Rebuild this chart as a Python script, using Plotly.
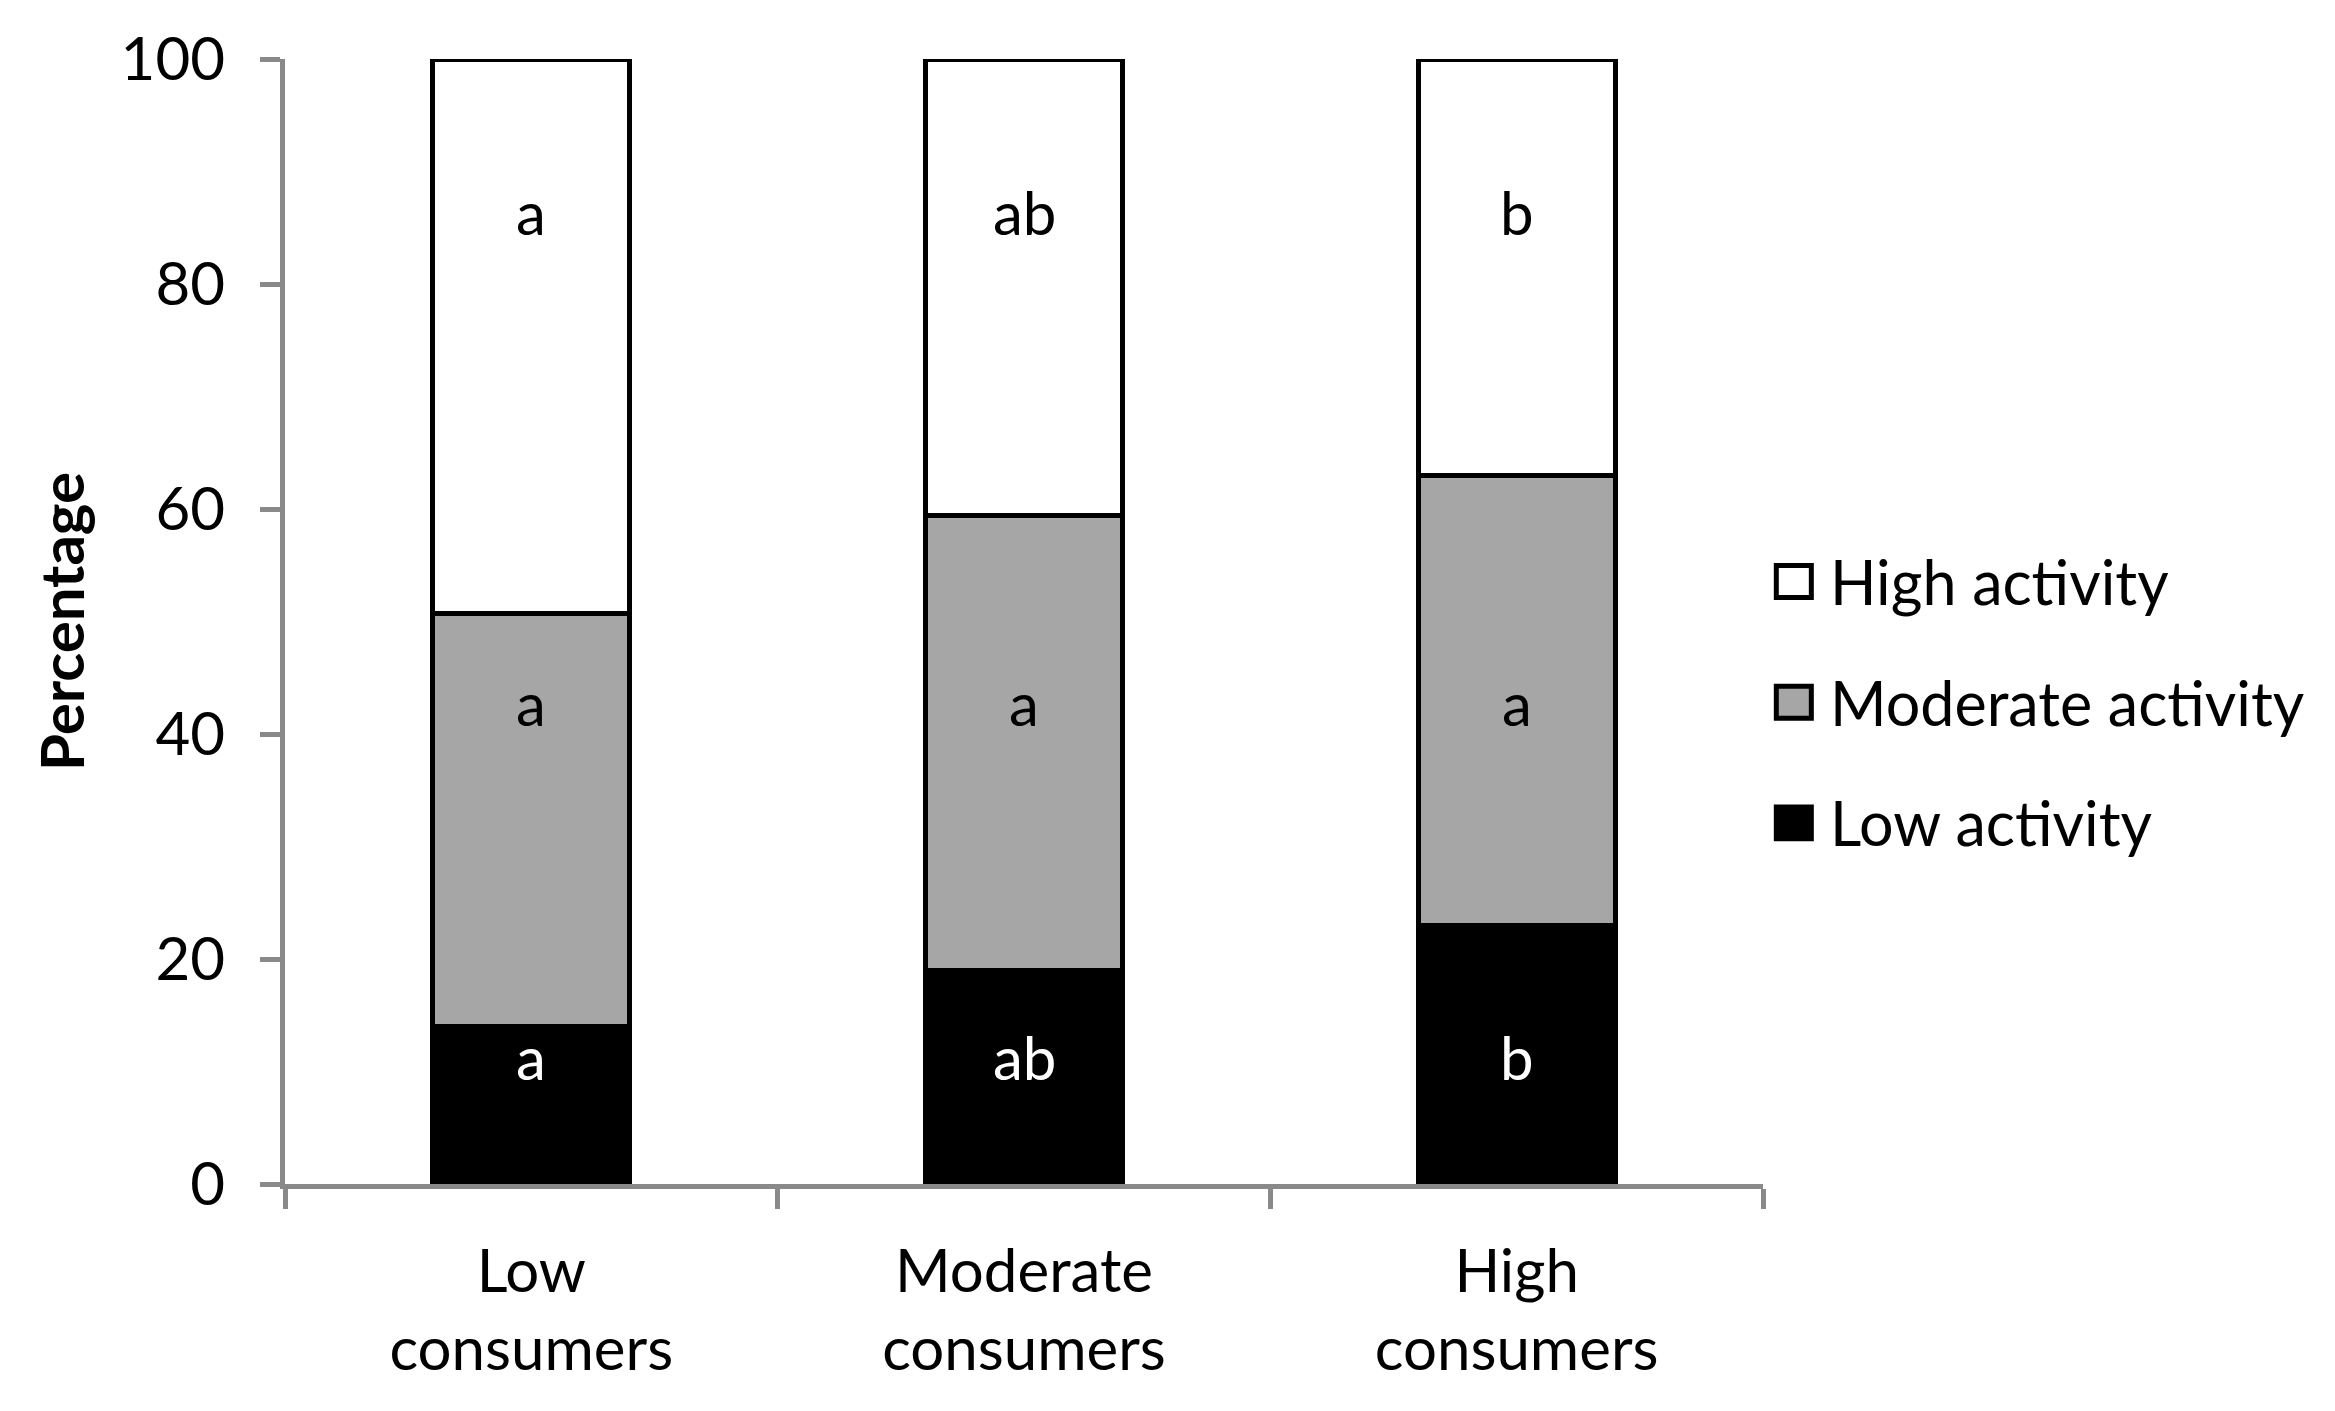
import plotly.graph_objects as go

categories = ["Low<br>consumers", "Moderate<br>consumers", "High<br>consumers"]
series_names = ["Low activity", "Moderate activity", "High activity"]
low_activity = [14.0, 19.0, 23.0]
moderate_activity = [36.7, 40.4, 40.0]
high_activity = [49.3, 40.6, 37.0]
letters_low = ["a", "ab", "b"]
letters_moderate = ["a", "a", "a"]
letters_high = ["a", "ab", "b"]
y_ticks = [0, 20, 40, 60, 80, 100]

FONT = "Lato"
FS = 60
GREY = "#898989"
fills = ["#000000", "#a6a6a6", "#ffffff"]
values = [low_activity, moderate_activity, high_activity]
letters = [letters_low, letters_moderate, letters_high]
letter_y = [11.3, 42.8, 86.4]
letter_colors = ["#ffffff", "#000000", "#000000"]

fig = go.Figure()
for name, vals, fill in zip(series_names, values, fills):
    fig.add_trace(go.Bar(
        x=categories, y=vals, name=name,
        marker=dict(color=fill, line=dict(color="#000000", width=5)),
        showlegend=False, hoverinfo="skip",
    ))

annotations = []
for labs, ly, col in zip(letters, letter_y, letter_colors):
    for cat, lab in zip(categories, labs):
        annotations.append(dict(
            x=cat, y=ly, xref="x", yref="y", text=lab, showarrow=False,
            font=dict(family=FONT, size=FS, color=col),
        ))

# manual legend (top to bottom: High, Moderate, Low)
legend_y = [0.5356, 0.4283, 0.3210]
shapes = []
for name, fill, cy in zip(series_names[::-1], fills[::-1], legend_y):
    shapes.append(dict(
        type="rect", xref="paper", yref="paper",
        x0=1.0090, x1=1.0327, y0=cy - 0.0142, y1=cy + 0.0142,
        fillcolor=fill, line=dict(color="#000000", width=5),
    ))
    annotations.append(dict(
        x=1.0440, y=cy, xref="paper", yref="paper", text=name,
        showarrow=False, xanchor="left", yanchor="middle",
        font=dict(family=FONT, size=61, color="#000000"),
    ))

fig.update_layout(
    barmode="stack",
    bargap=0.6,
    width=2327, height=1403,
    margin=dict(l=277, r=572, t=51, b=227),
    plot_bgcolor="#ffffff", paper_bgcolor="#ffffff",
    font=dict(family=FONT, size=FS, color="#000000"),
    annotations=annotations,
    shapes=shapes,
    showlegend=False,
)
fig.update_xaxes(
    type="category", range=[-0.5, 2.5],
    showline=True, linecolor=GREY, linewidth=5,
    ticks="outside", tickson="boundaries", ticklen=20, tickwidth=5, tickcolor=GREY,
    tickfont=dict(family=FONT, size=FS, color="#000000"),
    showgrid=False, zeroline=False, ticklabelstandoff=31,
)
fig.update_yaxes(
    range=[0, 100], tickvals=y_ticks,
    showline=True, linecolor=GREY, linewidth=5,
    ticks="outside", ticklen=20, tickwidth=5, tickcolor=GREY,
    tickfont=dict(family=FONT, size=FS, color="#000000"),
    showgrid=False, zeroline=False, ticklabelstandoff=23,
    title=dict(text="<b>Percentage</b>", font=dict(family=FONT, size=60, color="#000000"), standoff=18),
)

fig.write_html("out.html")
